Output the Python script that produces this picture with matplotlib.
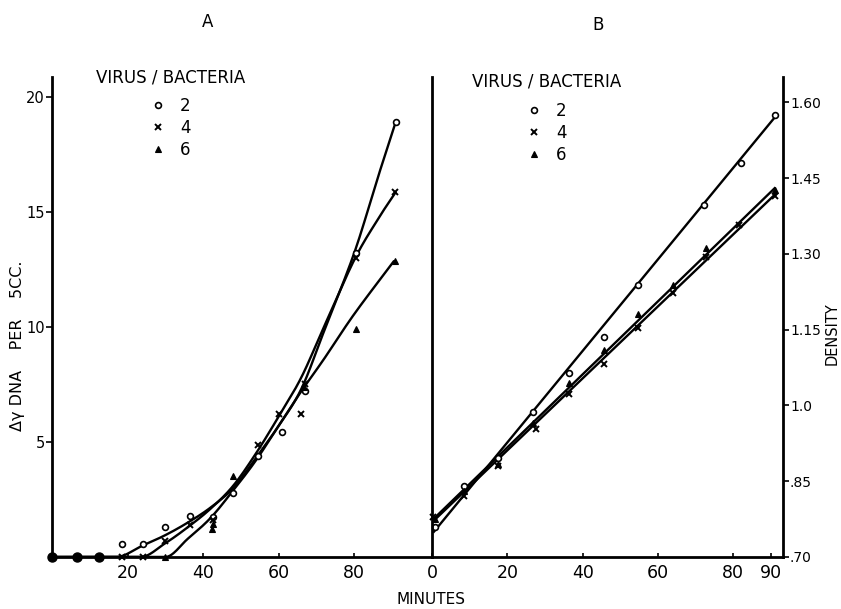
import numpy as np
import matplotlib
matplotlib.use("Agg")
import matplotlib.pyplot as plt
from matplotlib.lines import Line2D

# ---------------- Panel A: DNA increase (micrograms per 5 cc) vs minutes ----------------
# measured points, virus/bacteria = 2 (circles)
a2_t = [18.5, 24.0, 30.0, 36.5, 42.5, 48.0, 54.5, 61.0, 67.0, 80.5, 91.0]
a2_y = [0.55, 0.55, 1.30, 1.80, 1.75, 2.80, 4.40, 5.45, 7.20, 13.20, 18.90]
# virus/bacteria = 4 (crosses)
a4_t = [18.5, 24.0, 30.0, 36.5, 42.5, 54.5, 60.2, 66.0, 67.0, 80.6, 90.8]
a4_y = [0.00, 0.00, 0.70, 1.40, 1.60, 4.85, 6.20, 6.20, 7.50, 13.00, 15.85]
# virus/bacteria = 6 (triangles)
a6_t = [30.0, 42.3, 42.5, 48.0, 66.8, 80.5, 90.8]
a6_y = [0.00, 1.20, 1.45, 3.50, 7.40, 9.90, 12.85]
# early samples common to all three cultures (no increase yet)
a_base_t = [0.0, 6.5, 12.5]
a_base_y = [0.0, 0.0, 0.0]

# hand-drawn smooth curves through the data: flat until the first knot, then rising
a2_curve_t = [17.0, 24.0, 30.0, 36.0, 42.0, 48.0, 54.0, 60.0, 66.0, 72.0, 80.0, 86.0, 91.0]
a2_curve_y = [0.0, 0.50, 0.95, 1.50, 2.15, 3.00, 4.30, 5.70, 7.30, 9.80, 13.20, 16.35, 18.90]
a4_curve_t = [23.5, 30.0, 36.0, 42.0, 48.0, 54.0, 60.0, 66.0, 72.0, 80.0, 86.0, 91.0]
a4_curve_y = [0.0, 0.60, 1.30, 2.10, 3.10, 4.50, 6.10, 7.80, 10.00, 12.90, 14.60, 15.85]
a6_curve_t = [30.0, 36.0, 42.0, 48.0, 54.0, 60.0, 66.0, 72.0, 80.0, 90.5]
a6_curve_y = [0.0, 0.80, 1.70, 2.90, 4.20, 5.70, 7.20, 8.60, 10.55, 12.85]

# ---------------- Panel B: density vs minutes ----------------
b2_t = [0.8, 8.5, 17.6, 26.9, 36.3, 45.6, 54.7, 72.3, 82.0, 91.0]
b2_y = [0.759, 0.840, 0.895, 0.986, 1.065, 1.136, 1.239, 1.397, 1.480, 1.575]
b4_t = [0.3, 8.5, 17.6, 27.5, 36.3, 45.6, 54.7, 64.0, 72.8, 81.5, 91.0]
b4_y = [0.780, 0.820, 0.880, 0.953, 1.022, 1.081, 1.154, 1.223, 1.294, 1.357, 1.414]
b6_t = [0.8, 8.5, 17.6, 26.9, 36.3, 45.6, 54.7, 64.0, 72.8, 91.0]
b6_y = [0.775, 0.830, 0.885, 0.965, 1.045, 1.110, 1.180, 1.239, 1.312, 1.426]
# straight fitted lines (end points)
b2_line_t, b2_line_y = [0.5, 91.0], [0.750, 1.570]
b4_line_t, b4_line_y = [0.5, 91.0], [0.772, 1.417]
b6_line_t, b6_line_y = [0.5, 91.0], [0.776, 1.430]

a_xticks = [20, 40, 60, 80]
a_yticks = [5, 10, 15, 20]
b_xticks = [0, 20, 40, 60, 80, 90]
b_yticks = [0.70, 0.85, 1.00, 1.15, 1.30, 1.45, 1.60]
b_yticklabels = [".70", ".85", "1.0", "1.15", "1.30", "1.45", "1.60"]
ratios = ["2", "4", "6"]


def rising_curve(xs, ys, n=24):
    """Flat segment from t=0 to the first knot, then a smooth Catmull-Rom
    curve through the knots that leaves the baseline tangentially."""
    pts = np.column_stack([xs, ys]).astype(float)
    start = np.array([2 * pts[0, 0] - pts[1, 0], pts[1, 1]])
    end = 2 * pts[-1] - pts[-2]
    p = np.vstack([start, pts, end])
    out = [np.array([[0.0, pts[0, 1]]])]
    s = np.linspace(0, 1, n, endpoint=False)[:, None]
    for i in range(1, len(p) - 2):
        p0, p1, p2, p3 = p[i - 1], p[i], p[i + 1], p[i + 2]
        seg = 0.5 * ((2 * p1) + (-p0 + p2) * s
                     + (2 * p0 - 5 * p1 + 4 * p2 - p3) * s ** 2
                     + (-p0 + 3 * p1 - 3 * p2 + p3) * s ** 3)
        out.append(seg)
    out.append(pts[-1:])
    c = np.vstack(out)
    return c[:, 0], c[:, 1]


W, H = 841, 609
fig = plt.figure(figsize=(W / 100, H / 100), dpi=100)
plt.rcParams["font.family"] = ["DejaVu Sans"]

x0, xm, x1 = 52, 432, 783
ytop, ybot = 77, 557
axA = fig.add_axes([x0 / W, 1 - ybot / H, (xm - x0) / W, (ybot - ytop) / H])
axB = fig.add_axes([xm / W, 1 - ybot / H, (x1 - xm) / W, (ybot - ytop) / H])
axB.patch.set_visible(False)
axA.set_zorder(2)
axA.patch.set_visible(False)

LW = 1.7
ink = "black"
mk_circle = dict(marker="o", ms=4.2, mfc="white", mec=ink, mew=1.2, ls="none")
mk_cross = dict(marker="x", ms=4.0, mec=ink, mew=1.4, ls="none")
mk_tri = dict(marker="^", ms=4.5, mfc=ink, mec=ink, mew=0.8, ls="none")

# ---- panel A ----
for ct, cy in [(a2_curve_t, a2_curve_y), (a4_curve_t, a4_curve_y), (a6_curve_t, a6_curve_y)]:
    sx, sy = rising_curve(ct, cy)
    axA.plot(sx, sy, color=ink, lw=LW, solid_capstyle="round", zorder=2)
axA.plot(a_base_t, a_base_y, marker="o", ms=6.5, mfc=ink, mec=ink, ls="none",
         clip_on=False, zorder=4)
axA.plot(a2_t, a2_y, clip_on=False, zorder=3, **mk_circle)
axA.plot(a4_t, a4_y, clip_on=False, zorder=3, **mk_cross)
axA.plot(a6_t, a6_y, clip_on=False, zorder=3, **mk_tri)

axA.set_xlim(0, 100.6)
axA.set_ylim(0, 20.85)
axA.set_xticks(a_xticks)
axA.set_yticks(a_yticks)
axA.spines["top"].set_visible(False)
for sp in ("left", "bottom", "right"):
    axA.spines[sp].set_linewidth(2.0)
axA.tick_params(axis="y", direction="out", length=4, width=1.2, labelsize=10.5, pad=1)
axA.tick_params(axis="x", direction="in", length=3, width=1.2, labelsize=12.5, pad=5)
axA.set_ylabel("Δγ DNA    PER    5CC.", fontsize=11.5)
axA.yaxis.set_label_coords(-0.07, 0.44)

# ---- panel B ----
for lt, ly in [(b2_line_t, b2_line_y), (b4_line_t, b4_line_y), (b6_line_t, b6_line_y)]:
    axB.plot(lt, ly, color=ink, lw=LW, zorder=2)
axB.plot(b2_t, b2_y, clip_on=False, zorder=3, **mk_circle)
axB.plot(b4_t, b4_y, clip_on=False, zorder=3, **mk_cross)
axB.plot(b6_t, b6_y, clip_on=False, zorder=3, **mk_tri)

axB.set_xlim(0, 93.2)
axB.set_ylim(0.70, 1.65)
axB.set_xticks(b_xticks)
axB.set_yticks(b_yticks)
axB.set_yticklabels(b_yticklabels)
axB.yaxis.tick_right()
axB.yaxis.set_label_position("right")
axB.spines["top"].set_visible(False)
axB.spines["left"].set_visible(False)
for sp in ("bottom", "right"):
    axB.spines[sp].set_linewidth(2.0)
axB.tick_params(axis="y", direction="out", length=4, width=1.2, labelsize=10, pad=1)
axB.tick_params(axis="x", direction="in", length=3, width=1.2, labelsize=12.5, pad=5)
axB.set_ylabel("DENSITY", fontsize=10.5)
axB.yaxis.set_label_coords(1.118, 0.465)

# legends: heading above, keyed entries below
handles = [Line2D([], [], **mk_circle), Line2D([], [], **mk_cross), Line2D([], [], **mk_tri)]
for cx, ty, ey in [(171, 78, 89), (547, 82, 94)]:
    fig.text(cx / W, 1 - ty / H, "VIRUS / BACTERIA", ha="center", va="center",
             fontsize=12)
    fig.legend(handles, ratios, loc="upper center",
               bbox_to_anchor=(cx / W, 1 - ey / H), bbox_transform=fig.transFigure,
               frameon=False, fontsize=12, handlelength=0.8,
               handletextpad=0.9, labelspacing=0.22, borderpad=0)

fig.text(208 / W, 1 - 22 / H, "A", ha="center", va="center", fontsize=12)
fig.text(598 / W, 1 - 25 / H, "B", ha="center", va="center", fontsize=12)
fig.text(431 / W, 1 - 600 / H, "MINUTES", ha="center", va="center", fontsize=11)

fig.savefig("out.png", dpi=100)
